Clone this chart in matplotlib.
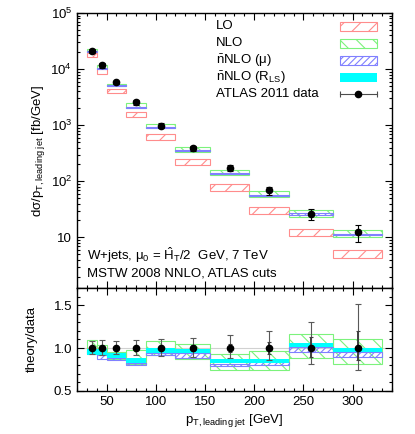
import numpy as np
import matplotlib
matplotlib.use("Agg")
import matplotlib.pyplot as plt
from matplotlib.patches import Rectangle
from matplotlib.ticker import MultipleLocator, LogLocator, NullFormatter

plt.rcParams["font.family"] = ["Liberation Sans", "DejaVu Sans"]
plt.rcParams["mathtext.fontset"] = "custom"
plt.rcParams["mathtext.rm"] = "Liberation Sans"
plt.rcParams["mathtext.it"] = "Liberation Sans:italic"
plt.rcParams["mathtext.sf"] = "Liberation Sans"
plt.rcParams["hatch.linewidth"] = 0.8
FS = 9.5

# pT bins of the leading jet [GeV]
bin_edges = [30, 40, 50, 70, 90, 120, 155, 195, 235, 280, 330]

# ATLAS 2011 data [fb/GeV]
data = [21300, 11600, 5790, 2550, 980, 386, 172, 68.9, 26.4, 12.3]
data_err = [1700, 990, 460, 230, 98, 42, 22, 11.4, 6.1, 4.2]
data_err_stat = [210, 120, 60, 50, 20, 12, 8.6, 4.8, 2.9, 2.0]

# LO prediction band [fb/GeV]
lo_low = [16400, 8190, 3690, 1400, 544, 198, 66, 26.1, 10.4, 4.22]
lo_high = [19400, 10000, 4480, 1740, 697, 253, 89.6, 34.8, 14.1, 5.86]

# theory/data bands
nlo_low = [0.94, 0.92, 0.87, 0.81, 0.92, 0.87, 0.75, 0.75, 0.88, 0.82]
nlo_high = [1.09, 1.035, 0.955, 0.975, 1.085, 1.045, 0.935, 0.97, 1.16, 1.10]
nnlo_mu_low = [0.93, 0.87, 0.86, 0.80, 0.925, 0.88, 0.79, 0.80, 0.955, 0.90]
nnlo_mu_high = [0.97, 0.92, 0.89, 0.83, 0.945, 0.94, 0.815, 0.84, 1.015, 0.95]
nnlo_rls_low = [0.92, 0.92, 0.89, 0.83, 0.945, 0.94, 0.83, 0.83, 1.015, 0.95]
nnlo_rls_high = [0.99, 0.995, 0.94, 0.89, 1.0, 0.985, 0.87, 0.87, 1.06, 1.0]

ytick_vals = [10, 1e2, 1e3, 1e4, 1e5]
ytick_labels = ["10", "10$^2$", "10$^3$", "10$^4$", "10$^5$"]
rtick_vals = [0.5, 1.0, 1.5]
rtick_labels = ["0.5", "1.0", "1.5"]
xtick_vals = [50, 100, 150, 200, 250, 300]

legend_labels = ["LO", "NLO", r"$\bar{\mathrm{n}}$NLO (μ)",
                 r"$\bar{\mathrm{n}}$NLO (R$_\mathrm{LS}$)", "ATLAS 2011 data"]

edges = np.array(bin_edges, dtype=float)
left = edges[:-1]
width = np.diff(edges)
centers = left + width / 2
d = np.array(data)
derr = np.array(data_err)
dstat = np.array(data_err_stat)

C_LO = "#ff8c8c"
C_NLO = "#7cf27c"
C_MU = "#8080ff"
C_RLS = "#00ffff"


def band(ax, low, high, color, hatch=None, fill=False, z=2):
    low = np.asarray(low)
    high = np.asarray(high)
    if fill:
        ax.bar(left, high - low, width=width, bottom=low, align="edge",
               color=color, edgecolor="none", zorder=z)
    else:
        ax.bar(left, high - low, width=width, bottom=low, align="edge",
               facecolor="none", edgecolor=color, hatch=hatch, linewidth=0.8,
               zorder=z)


def style_ticks(ax):
    ax.tick_params(which="both", direction="in", top=True, right=True,
                   labelsize=FS, width=0.8)
    ax.tick_params(which="major", length=5)
    ax.tick_params(which="minor", length=2.5)
    for s in ax.spines.values():
        s.set_linewidth(1.0)


fig = plt.figure(figsize=(4.15, 4.34), dpi=100)
ax1 = fig.add_axes([0.1855, 0.3364, 0.759, 0.6336])
ax2 = fig.add_axes([0.1855, 0.0991, 0.759, 0.2373])

# ---- top panel
band(ax1, lo_low, lo_high, C_LO, "//")
band(ax1, np.array(nlo_low) * d, np.array(nlo_high) * d, C_NLO, "\\\\")
band(ax1, np.array(nnlo_mu_low) * d, np.array(nnlo_mu_high) * d, C_MU, "/////")
ax1.errorbar(centers, d, yerr=derr, fmt="o", color="k", markersize=4.5,
             elinewidth=0.8, capsize=2, capthick=0.8, zorder=5)

ax1.set_yscale("log")
ax1.set_xlim(20, 340)
ax1.set_ylim(1.25, 1e5)
ax1.set_yticks(ytick_vals, ytick_labels)
ax1.yaxis.set_minor_locator(LogLocator(base=10, subs=np.arange(2, 10), numticks=20))
ax1.yaxis.set_minor_formatter(NullFormatter())
ax1.set_xticks(xtick_vals)
ax1.xaxis.set_minor_locator(MultipleLocator(10))
ax1.tick_params(labelbottom=False)
style_ticks(ax1)
ax1.set_ylabel(r"dσ/p$_{\mathrm{T,leading\ jet}}$ [fb/GeV]", fontsize=FS)
ax1.yaxis.set_label_coords(-0.095, 0.5)

ax1.text(0.032, 0.12, r"W+jets, μ$_0$ = $\hat{\mathrm{H}}_\mathrm{T}$/2  GeV, 7 TeV",
         transform=ax1.transAxes, fontsize=FS, va="center", ha="left")
ax1.text(0.032, 0.051, "MSTW 2008 NNLO, ATLAS cuts",
         transform=ax1.transAxes, fontsize=FS, va="center", ha="left")

# legend, drawn by hand: text left-aligned, keys in a column on the right
row_y = 0.951
row_dy = 0.0617
tx, kx0, kx1, kh = 0.441, 0.835, 0.951, 0.030
keys = [dict(facecolor="none", edgecolor=C_LO, hatch="//", linewidth=0.8),
        dict(facecolor="none", edgecolor=C_NLO, hatch="\\\\", linewidth=0.8),
        dict(facecolor="none", edgecolor=C_MU, hatch="/////", linewidth=0.8),
        dict(facecolor=C_RLS, edgecolor="none")]
for i, lab in enumerate(legend_labels):
    y = row_y - i * row_dy
    ax1.text(tx, y, lab, transform=ax1.transAxes, fontsize=FS,
             va="center", ha="left")
    if i < len(keys):
        ax1.add_patch(Rectangle((kx0, y - kh / 2), kx1 - kx0, kh,
                                transform=ax1.transAxes, clip_on=False, **keys[i]))
    else:
        ax1.plot([kx0, kx1], [y, y], color="0.3", lw=0.8, transform=ax1.transAxes)
        ax1.plot([kx0, kx1], [y, y], ls="none", marker="|", ms=5, mew=0.8,
                 color="0.3", transform=ax1.transAxes)
        ax1.plot([(kx0 + kx1) / 2], [y], "o", color="k", ms=4.5,
                 transform=ax1.transAxes)

# ---- ratio panel
ax2.axhline(1.0, color="0.82", linewidth=0.8, zorder=1)
band(ax2, nlo_low, nlo_high, C_NLO, "\\\\", z=2)
band(ax2, nnlo_mu_low, nnlo_mu_high, C_MU, "/////", z=3)
band(ax2, nnlo_rls_low, nnlo_rls_high, C_RLS, fill=True, z=4)

r_up = d / (d - derr) - 1
r_dn = 1 - d / (d + derr)
s_up = d / (d - dstat) - 1
s_dn = 1 - d / (d + dstat)
ones = np.ones_like(d)
ax2.errorbar(centers, ones, yerr=[r_dn, r_up], fmt="none", ecolor="0.35",
             elinewidth=0.8, capsize=2, capthick=0.8, zorder=5)
ax2.errorbar(centers, ones, yerr=[s_dn, s_up], fmt="o", color="k",
             ecolor="0.25", markersize=4.5, elinewidth=1.4, capsize=1.5,
             capthick=0.8, zorder=6)

ax2.set_xlim(20, 340)
ax2.set_ylim(0.5, 1.7)
ax2.set_yticks(rtick_vals, rtick_labels)
ax2.yaxis.set_minor_locator(MultipleLocator(0.1))
ax2.set_xticks(xtick_vals)
ax2.xaxis.set_minor_locator(MultipleLocator(10))
style_ticks(ax2)
ax2.set_ylabel("theory/data", fontsize=FS)
ax2.yaxis.set_label_coords(-0.125, 0.5)
ax2.set_xlabel(r"p$_{\mathrm{T,leading\ jet}}$ [GeV]", fontsize=FS)
ax2.xaxis.set_label_coords(0.5, -0.2)

fig.savefig("out.png", dpi=100)
